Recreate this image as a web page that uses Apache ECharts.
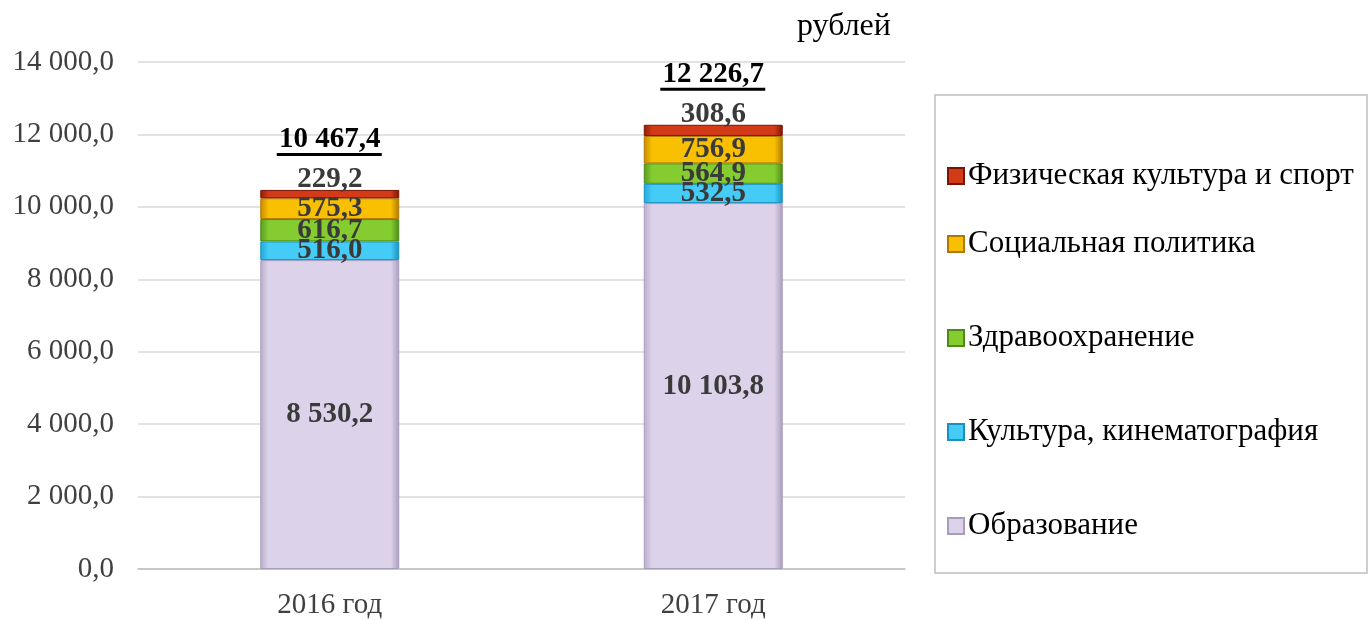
<!DOCTYPE html>
<html>
<head>
<meta charset="utf-8">
<script src="https://cdn.jsdelivr.net/npm/echarts@6/dist/echarts.min.js"></script>
<style>
  html, body { margin: 0; padding: 0; background: #fff; }
  #chart { width: 1370px; height: 620px; }
</style>
</head>
<body>
<div id="chart"></div>
<script>
// данные
let years = ['2016 год', '2017 год'];
let obrazovanie = [8530.2, 10103.8];
let kultura = [516.0, 532.5];
let zdrav = [616.7, 564.9];
let socPolit = [575.3, 756.9];
let sport = [229.2, 308.6];
let totals = [10467.4, 12226.7];

let fontSerif = '"Liberation Serif", "Times New Roman", serif';

function fmt(v) {
    let s = v.toFixed(1).split('.');
    return s[0].replace(/\B(?=(\d{3})+(?!\d))/g, ' ') + ',' + s[1];
}

// имитация объёмной заливки: светлее к центру, темнее к краям
function grad(edge, mid, dark) {
    return new echarts.graphic.LinearGradient(0, 0, 1, 0, [
        {offset: 0, color: edge},
        {offset: 0.06, color: mid},
        {offset: 0.5, color: mid},
        {offset: 0.94, color: mid},
        {offset: 1, color: dark}
    ]);
}

let myChart = echarts.init(document.getElementById('chart'));

let labelStyle = {
    show: true,
    position: 'inside',
    fontFamily: fontSerif,
    fontWeight: 'bold',
    fontSize: 29,
    color: '#3a3a3a',
    formatter: function (p) { return fmt(p.value); }
};

function barSeries(name, data, colors, labelPos) {
    return {
        name: name,
        type: 'bar',
        stack: 'total',
        barWidth: 139,
        data: data,
        itemStyle: {
            color: grad(colors[0], colors[1], colors[2]),
            borderColor: colors[2],
            borderWidth: 1
        },
        label: Object.assign({}, labelStyle, labelPos ? {position: labelPos, distance: -4} : {})
    };
}

let legendText = {fontFamily: fontSerif, fontSize: 31, lineHeight: 32, color: '#000', padding: [0, 0, 0, -1]};

let option = {
    animation: false,
    textStyle: {fontFamily: fontSerif},
    grid: {left: 138, right: 465, top: 62, bottom: 50, containLabel: false},
    graphic: [
        {
            type: 'text', left: 797, top: 11,
            style: {text: 'рублей', fontFamily: fontSerif, fontSize: 32, fill: '#000'}
        },
        {
            type: 'rect', shape: {x: 935, y: 95, width: 432, height: 478},
            style: {fill: 'none', stroke: '#bfbfbf', lineWidth: 1.5}
        }
    ],
    legend: [
        {
            orient: 'vertical', left: 942, top: 155,
            itemWidth: 16, itemHeight: 16, icon: 'rect',
            textStyle: legendText,
            data: ['Физическая культура и спорт']
        },
        {
            orient: 'vertical', left: 942, top: 223, itemGap: 62,
            itemWidth: 16, itemHeight: 16, icon: 'rect',
            textStyle: legendText,
            data: ['Социальная политика', 'Здравоохранение', 'Культура, кинематография', 'Образование']
        }
    ],
    xAxis: {
        type: 'category',
        data: years,
        axisLine: {lineStyle: {color: '#bfbfbf', width: 1.5}},
        axisTick: {show: false},
        axisLabel: {fontFamily: fontSerif, fontSize: 29, color: '#404040', margin: 22}
    },
    yAxis: {
        type: 'value',
        min: 0,
        max: 14000,
        interval: 2000,
        axisLine: {show: false},
        axisTick: {show: false},
        splitLine: {lineStyle: {color: '#d9d9d9', width: 1.5}},
        axisLabel: {
            fontFamily: fontSerif, fontSize: 29, color: '#404040', margin: 24,
            formatter: function (v) { return fmt(v); }
        }
    },
    series: [
        barSeries('Образование', obrazovanie, ['#b8aecb', '#dcd2ea', '#a89cbc']),
        barSeries('Культура, кинематография', kultura, ['#20a8d8', '#44ccf6', '#1890c0']),
        barSeries('Здравоохранение', zdrav, ['#5c9a20', '#84cc30', '#4e8a18']),
        barSeries('Социальная политика', socPolit, ['#c88a00', '#f8c000', '#b07800']),
        barSeries('Физическая культура и спорт', sport, ['#8e1c08', '#d23a18', '#7a1606'], 'top'),
        {
            name: 'Итого',
            type: 'custom',
            data: totals.map(function (v, i) { return [i, v, obrazovanie[i] + kultura[i] + zdrav[i] + socPolit[i] + sport[i]]; }),
            renderItem: function (params, api) {
                let pt = api.coord([api.value(0), api.value(2)]);
                let txt = fmt(api.value(1));
                let y = pt[1] - 38;
                return {
                    type: 'group',
                    children: [
                        {
                            type: 'text',
                            style: {
                                text: txt, x: pt[0], y: y + 2,
                                align: 'center', verticalAlign: 'bottom',
                                font: 'bold 29px ' + fontSerif, fill: '#000'
                            }
                        },
                        {
                            type: 'rect',
                            shape: {x: pt[0] - 53, y: y + 1, width: 105, height: 3},
                            style: {fill: '#000'}
                        }
                    ]
                };
            },
            z: 10
        }
    ]
};

myChart.setOption(option);
</script>
</body>
</html>
